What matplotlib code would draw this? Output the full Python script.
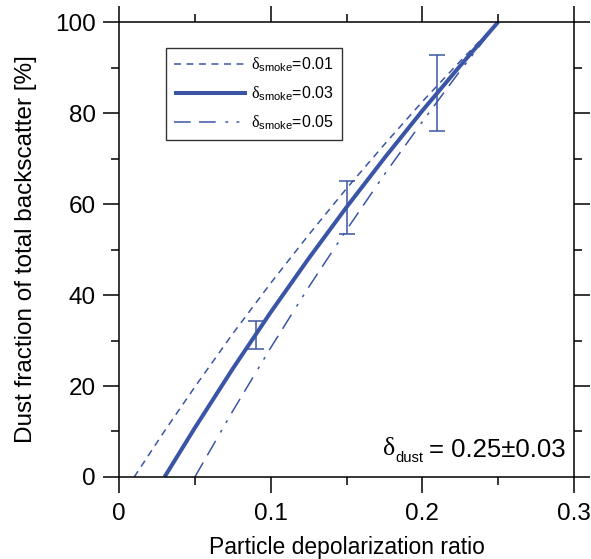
# dust fraction vs particle depolarization ratio for three smoke depol. values
import matplotlib
matplotlib.use('Agg')
import matplotlib.pyplot as plt
from matplotlib.ticker import MultipleLocator

# values
depol = [0.01, 0.03, 0.05, 0.075, 0.1, 0.125, 0.15, 0.175, 0.2, 0.225, 0.25]
frac_s001 = [0.0, 10.1, 19.8, 31.5, 42.6, 53.2, 63.4, 73.1, 82.5, 91.4, 100.0]
frac_s003 = [None, 0.0, 10.8, 23.8, 36.2, 48.0, 59.3, 70.1, 80.5, 90.4, 100.0]
frac_s005 = [None, None, 0.0, 14.5, 28.4, 41.7, 54.3, 66.5, 78.1, 89.3, 100.0]
smoke_labels = ['0.01', '0.03', '0.05']

err_x = [0.09, 0.15, 0.21]
err_y = [31.2, 59.3, 84.4]
err_lo = [3.1, 5.9, 8.3]
err_hi = [3.1, 5.8, 8.3]

plt.rcParams['font.family'] = ['Liberation Sans', 'DejaVu Sans']
plt.rcParams['mathtext.fontset'] = 'custom'
plt.rcParams['mathtext.rm'] = 'Liberation Sans'
plt.rcParams['mathtext.it'] = 'Liberation Serif'
plt.rcParams['lines.scale_dashes'] = False

blue = '#3a55a6'

fig = plt.figure(figsize=(5.91, 5.59), dpi=100)
ax = fig.add_axes([0.2014, 0.1467, 0.7698, 0.8139])


def pick(ys):
    xs = [x for x, y in zip(depol, ys) if y is not None]
    return xs, [y for y in ys if y is not None]


x1, y1 = pick(frac_s001)
x2, y2 = pick(frac_s003)
x3, y3 = pick(frac_s005)
ax.plot(x1, y1, color=blue, lw=1.1, dashes=(5, 4),
        label=r'$\delta_{\mathrm{smoke}}$=' + smoke_labels[0])
ax.plot(x2, y2, color=blue, lw=2.9, solid_capstyle='butt',
        label=r'$\delta_{\mathrm{smoke}}$=' + smoke_labels[1])
ax.plot(x3, y3, color=blue, lw=1.1, dashes=(12, 6, 12, 7, 2, 6, 2, 6),
        label=r'$\delta_{\mathrm{smoke}}$=' + smoke_labels[2])

ax.errorbar(err_x, err_y, yerr=[err_lo, err_hi], fmt='none', ecolor=blue,
            elinewidth=1.1, capsize=5.5, capthick=1.1)

ax.set_xlim(0, 0.3)
ax.set_ylim(0, 100)
ax.set_xticks([0, 0.1, 0.2, 0.3])
ax.set_xticklabels(['0', '0.1', '0.2', '0.3'])
ax.xaxis.set_minor_locator(MultipleLocator(0.05))
ax.yaxis.set_major_locator(MultipleLocator(20))
ax.yaxis.set_minor_locator(MultipleLocator(10))
ax.tick_params(which='both', direction='out', top=True, right=True,
               width=1.1, labelsize=17.5, colors='black')
ax.tick_params(which='major', length=11.5, pad=5)
ax.tick_params(axis='x', which='major', pad=7)
ax.tick_params(which='minor', length=6)
for s in ax.spines.values():
    s.set_linewidth(1.1)

ax.set_xlabel('Particle depolarization ratio', fontsize=16.5, labelpad=8)
ax.set_ylabel('Dust fraction of total backscatter [%]', fontsize=17.5, labelpad=13)

# delta_dust note: main text, small subscript, then the delta in front
t1 = ax.text(0.982, 0.045, '= 0.25\u00b10.03', transform=ax.transAxes,
             ha='right', va='baseline', fontsize=18.5)
t2 = ax.annotate('dust', xy=(0, 0), xycoords=t1, xytext=(-4, -0.6),
                 textcoords='offset points', ha='right', va='baseline',
                 fontsize=10.5)
ax.annotate('\u03b4', xy=(0, 0), xycoords=t2, xytext=(0, 7.2),
            textcoords='offset points', ha='right', va='baseline',
            fontsize=18.5, family='Liberation Serif')

leg = ax.legend(loc='upper left', bbox_to_anchor=(0.103, 0.943), fontsize=11.5,
                frameon=True, fancybox=False, edgecolor='black', borderaxespad=0,
                handlelength=4.6, handletextpad=0.25, borderpad=0.5,
                labelspacing=0.65)
leg.get_frame().set_linewidth(1.0)

fig.savefig('out.png', dpi=100)
